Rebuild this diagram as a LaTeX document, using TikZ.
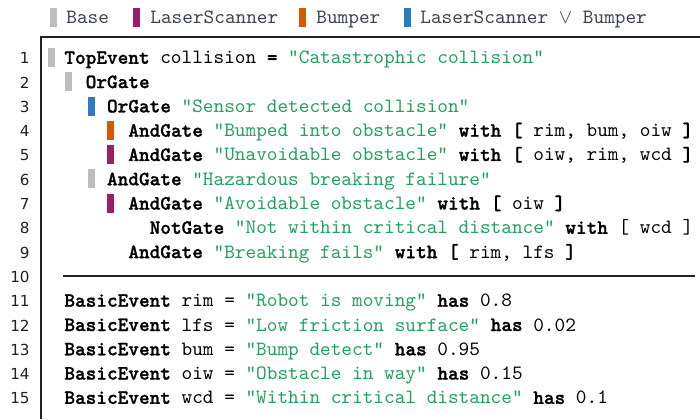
\documentclass[tikz,border=0pt]{standalone}
\usepackage{fontspec}
\newfontfamily\numfont{DejaVu Sans}
\newfontfamily\kwfont{lmmonolt10-bold.otf}[FakeBold=1.2]
\usepackage{xcolor}
\definecolor{basegray}{HTML}{BDBDBD}
\definecolor{laser}{HTML}{9B1D6A}
\definecolor{bumper}{HTML}{D25A00}
\definecolor{either}{HTML}{2E7BC4}
\definecolor{strgreen}{HTML}{22A05E}
\definecolor{legendink}{HTML}{3B4350}
\definecolor{frameink}{HTML}{222222}
\usetikzlibrary{positioning}

\newcommand{\codefont}{\ttfamily\fontsize{10.15}{12}\selectfont}
\newcommand{\kwd}[1]{{\kwfont #1}}
\newcommand{\lit}[1]{\textcolor{strgreen}{#1}}

\begin{document}
\begin{tikzpicture}[x=0.5pt, y=-0.5pt,
	codeline/.style={anchor=base west, inner sep=0pt, font=\codefont},
	legendline/.style={anchor=base west, inner sep=0pt, font=\codefont, text=legendink},
	lineno/.style={anchor=base east, inner sep=0pt, font=\numfont\fontsize{7.6}{9}\selectfont, text=frameink}]

	% ---------- page in pixel units, y pointing down
	\useasboundingbox (0,0) rectangle (700,419);
	\def\cw{10.66}   % one character column
	\def\lh{24.29}   % one code line
	\def\xo{64}      % column 0
	\def\yb{63.8}    % baseline of line 1
	\def\yc{57.5}    % middle of line 1

	% ================= Legend =================
	\foreach \bx/\col in {50/basegray, 133/laser, 299/bumper, 404/either}
		\fill[\col] (\bx,7.5) rectangle ++(6.5,19);
	\node[legendline] (legbase) at (66,23) {Base};
	\node[legendline] (leglaser) at (150,23) {LaserScanner};
	\node[legendline] (legbump) at (316,23) {Bumper};
	\node[legendline] (legeither) at (420,23) {LaserScanner $\vee$ Bumper};

	% ================= Editor frame =================
	\draw[frameink, line width=0.75pt] (41,419) -- (41,37) -- (700,37);

	% line numbers
	\foreach \i in {1,...,15}
		\node[lineno] (num\i) at (30,{\yb+(\i-1)*\lh}) {\i};

	% feature bars: line/x/colour
	\foreach \i/\bx/\col in {1/48/basegray, 2/65/basegray, 3/88/either, 4/107/bumper,
			5/107/laser, 6/88/basegray, 7/107/laser}
		\fill[\col] (\bx,{\yc+(\i-1)*\lh-9.5}) rectangle ++(6.5,19);

	% ---------- fault tree
	\node[codeline] (code1) at ({\xo+0*\cw},{\yb+0*\lh})
		{\kwd{TopEvent} collision \kwd{=} \lit{"Catastrophic collision"}};
	\node[codeline] (code2) at ({\xo+2*\cw},{\yb+1*\lh}) {\kwd{OrGate}};
	\node[codeline] (code3) at ({\xo+4*\cw},{\yb+2*\lh})
		{\kwd{OrGate} \lit{"Sensor detected collision"}};
	\node[codeline] (code4) at ({\xo+6*\cw},{\yb+3*\lh})
		{\kwd{AndGate} \lit{"Bumped into obstacle"} \kwd{with [} rim, bum, oiw \kwd{]}};
	\node[codeline] (code5) at ({\xo+6*\cw},{\yb+4*\lh})
		{\kwd{AndGate} \lit{"Unavoidable obstacle"} \kwd{with [} oiw, rim, wcd \kwd{]}};
	\node[codeline] (code6) at ({\xo+4*\cw},{\yb+5*\lh})
		{\kwd{AndGate} \lit{"Hazardous breaking failure"}};
	\node[codeline] (code7) at ({\xo+6*\cw},{\yb+6*\lh})
		{\kwd{AndGate} \lit{"Avoidable obstacle"} \kwd{with [} oiw \kwd{]}};
	\node[codeline] (code8) at ({\xo+8*\cw},{\yb+7*\lh})
		{\kwd{NotGate} \lit{"Not within critical distance"} \kwd{with} [ wcd ]};
	\node[codeline] (code9) at ({\xo+6*\cw},{\yb+8*\lh})
		{\kwd{AndGate} \lit{"Breaking fails"} \kwd{with [} rim, lfs \kwd{]}};

	% line 10: separator
	\draw[frameink, line width=0.75pt] (63,{\yc+9*\lh}) -- (695,{\yc+9*\lh});

	% ---------- basic events
	\node[codeline] (code11) at (\xo,{\yb+10*\lh})
		{\kwd{BasicEvent} rim = \lit{"Robot is moving"} \kwd{has} 0.8};
	\node[codeline] (code12) at (\xo,{\yb+11*\lh})
		{\kwd{BasicEvent} lfs = \lit{"Low friction surface"} \kwd{has} 0.02};
	\node[codeline] (code13) at (\xo,{\yb+12*\lh})
		{\kwd{BasicEvent} bum = \lit{"Bump detect"} \kwd{has} 0.95};
	\node[codeline] (code14) at (\xo,{\yb+13*\lh})
		{\kwd{BasicEvent} oiw = \lit{"Obstacle in way"} \kwd{has} 0.15};
	\node[codeline] (code15) at (\xo,{\yb+14*\lh})
		{\kwd{BasicEvent} wcd = \lit{"Within critical distance"} \kwd{has} 0.1};
\end{tikzpicture}
\end{document}
